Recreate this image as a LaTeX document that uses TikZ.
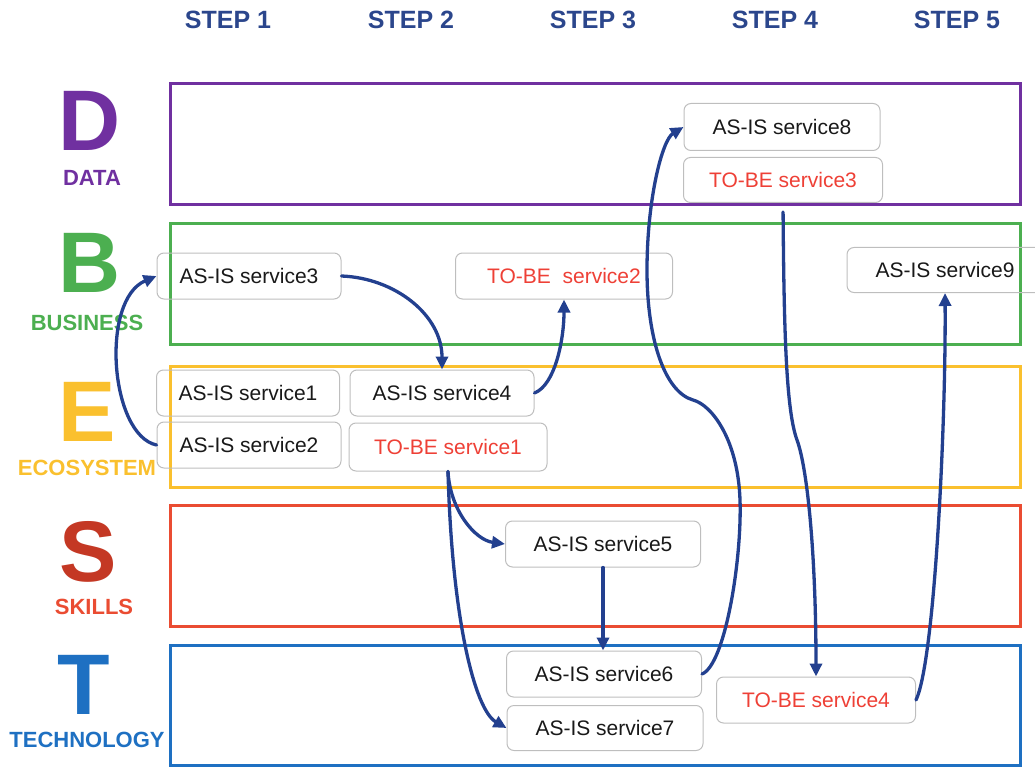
\documentclass[tikz,border=0pt]{standalone}
\usepackage{fontspec}
\setmainfont{Liberation Sans}
\usetikzlibrary{arrows.meta}

\definecolor{headblue}{RGB}{43,70,140}
\definecolor{flowblue}{RGB}{35,64,143}
\definecolor{dpurple}{RGB}{112,48,160}
\definecolor{bgreen}{RGB}{76,175,80}
\definecolor{eyellow}{RGB}{250,192,46}
\definecolor{sred}{RGB}{234,76,50}
\definecolor{sdark}{RGB}{196,56,36}
\definecolor{tblue}{RGB}{30,112,194}
\definecolor{boxgray}{RGB}{190,190,190}
\definecolor{tobered}{RGB}{238,64,54}

\tikzset{
  band/.style={line width=3pt},
  bigletter/.style={font=\fontsize{86}{86}\selectfont\bfseries, inner sep=0pt},
  layerlabel/.style={font=\fontsize{22}{22}\selectfont\bfseries, inner sep=0pt},
  stephead/.style={font=\fontsize{25}{25}\selectfont\bfseries, text=headblue, inner sep=0pt},
  svc/.style={draw=boxgray, line width=1pt, rounded corners=7pt, inner sep=0pt,
    minimum height=46pt, text=black!90, font=\fontsize{21}{24}\selectfont},
  tobe/.style={svc, text=tobered},
  flow/.style={draw=flowblue, line width=3.3pt, line cap=round,
    -{Triangle[length=13pt,width=12pt]}},
}

\begin{document}
\begin{tikzpicture}[x=1pt,y=-1pt]
\useasboundingbox (0,0) rectangle (1035,767);

% column headings
\node[stephead] (h1) at (228,20) {STEP 1};
\node[stephead] (h2) at (411,20) {STEP 2};
\node[stephead] (h3) at (593,20) {STEP 3};
\node[stephead] (h4) at (775,20) {STEP 4};
\node[stephead] (h5) at (957,20) {STEP 5};

% layer bands
\draw[band, dpurple] (170,84) rectangle (1020,205);
\draw[band, bgreen]  (170,224) rectangle (1020,344);
\draw[band, eyellow] (170,366) rectangle (1020,487);
\draw[band, sred]    (170,505) rectangle (1020,626);
\draw[band, tblue]   (170,645) rectangle (1020,765);

% layer letters and names
\node[bigletter, text=dpurple] (lD) at (90,121) {D};
\node[layerlabel, text=dpurple] (nD) at (92,178) {DATA};
\node[bigletter, text=bgreen] (lB) at (90,263) {B};
\node[layerlabel, text=bgreen] (nB) at (87,323) {BUSINESS};
\node[bigletter, text=eyellow] (lE) at (87,412) {E};
\node[layerlabel, text=eyellow] (nE) at (87,468) {ECOSYSTEM};
\node[bigletter, text=sdark] (lS) at (88,552) {S};
\node[layerlabel, text=sred] (nS) at (94,607) {SKILLS};
\node[bigletter, text=tblue] (lT) at (84,685) {T};
\node[layerlabel, text=tblue] (nT) at (87,740) {TECHNOLOGY};

% services
\node[svc, minimum width=184pt] (s3) at (249,276) {AS-IS service3};
\node[tobe, minimum width=217pt] (tb2) at (564,276) {TO-BE\ \ service2};
\node[svc, minimum width=183pt] (s1) at (248,393) {AS-IS service1};
\node[svc, minimum width=184pt] (s4) at (442,393) {AS-IS service4};
\node[svc, minimum width=184pt] (s2) at (249,445) {AS-IS service2};
\node[tobe, minimum width=198pt, minimum height=48pt] (tb1) at (448,447) {TO-BE service1};
\node[svc, minimum width=195pt] (s5) at (603,544) {AS-IS service5};
\node[svc, minimum width=195pt] (s6) at (604,674) {AS-IS service6};
\node[svc, minimum width=196pt, minimum height=45pt] (s7) at (605,728) {AS-IS service7};
\node[svc, minimum width=196pt, minimum height=47pt] (s8) at (782,127) {AS-IS service8};
\node[tobe, minimum width=199pt, minimum height=45pt] (tb3) at (783,180) {TO-BE service3};
\node[svc, minimum width=196pt, minimum height=45pt] (s9) at (945,270) {AS-IS service9};
\node[tobe, minimum width=199pt] (tb4) at (816,700) {TO-BE service4};

% transitions
\draw[flow] (s2.west) .. controls (110,435) and (100,300) .. (s3.west);
\draw[flow] (s3.east) .. controls (395,278) and (442,315) .. (s4.north);
\draw[flow] (s4.east) .. controls (555,385) and (564,340) .. (tb2.south);
\draw[flow] (tb1.south) .. controls (450,510) and (475,540) .. (s5.west);
\draw[flow] (tb1.south) .. controls (452,620) and (475,710) .. (s7.west);
\draw[flow] (s5.south) -- (s5.south |- s6.north);
\draw[flow] (s6.east) .. controls (725,665) and (742,560) .. (740,500)
  .. controls (738,440) and (712,405) .. (693,400)
  .. controls (665,392) and (647,340) .. (647,270)
  .. controls (647,200) and (662,140) .. (s8.west);
\draw[flow, shorten <=9pt] (tb3.south) .. controls (784,330) and (786,410) .. (797,440)
  .. controls (808,470) and (816,560) .. (tb4.north);
\draw[flow] (tb4.east) .. controls (935,660) and (946,420) .. (s9.south);
\end{tikzpicture}
\end{document}
